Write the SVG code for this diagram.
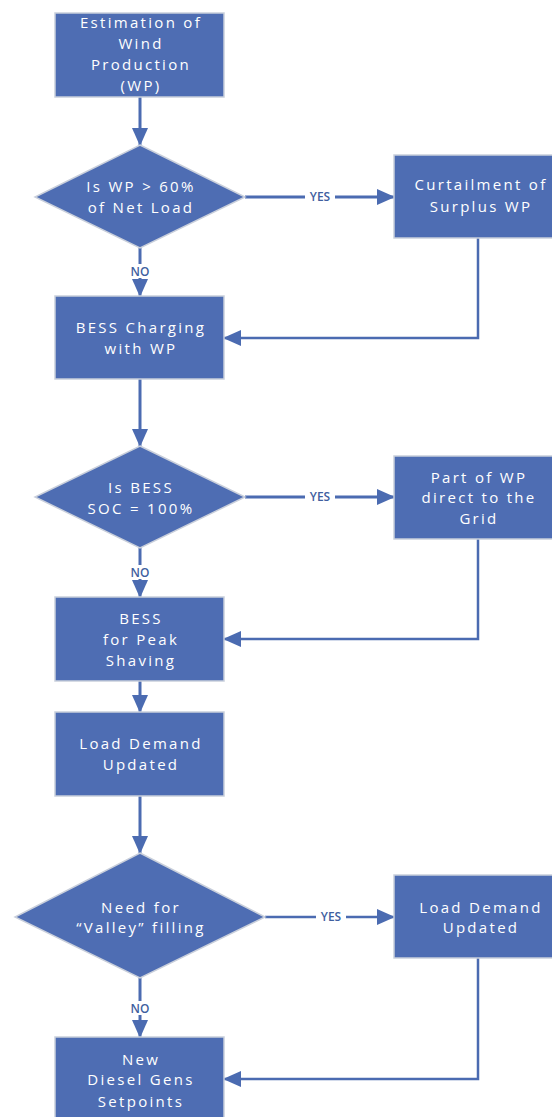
<svg xmlns="http://www.w3.org/2000/svg" width="552" height="1117" viewBox="0 0 552 1117">
<defs>
<style>
.n{fill:#4e6db3;stroke:#c9cfdb;stroke-width:1.5}
.t{font-family:"Open Sans","Noto Sans",sans-serif;font-size:15px;fill:#ffffff;text-anchor:middle;letter-spacing:2.3px}
.c{fill:none;stroke:#4b6bb1;stroke-width:3}
.r{fill:none;stroke:#4b6bb1;stroke-width:2.5}
.l{font-family:"Open Sans","Noto Sans",sans-serif;font-size:12px;font-weight:600;fill:#3f5f9f;text-anchor:middle}
</style>
<marker id="ah" viewBox="0 0 18 16" refX="17" refY="8" markerWidth="18" markerHeight="16" markerUnits="userSpaceOnUse" orient="auto">
<path d="M0,0 L18,8 L0,16 z" fill="#4b6bb1"/>
</marker>
</defs>
<rect width="552" height="1117" fill="#ffffff"/>
<g id="connectors">
<line class="c" x1="140" y1="97" x2="140" y2="145" marker-end="url(#ah)"/>
<line class="c" x1="245" y1="197" x2="394" y2="197" marker-end="url(#ah)"/>
<line class="c" x1="140" y1="248" x2="140" y2="296" marker-end="url(#ah)"/>
<polyline class="r" points="478,238 478,338 224,338" marker-end="url(#ah)"/>
<line class="c" x1="140" y1="379" x2="140" y2="446" marker-end="url(#ah)"/>
<line class="c" x1="245" y1="497" x2="394" y2="497" marker-end="url(#ah)"/>
<line class="c" x1="140" y1="548" x2="140" y2="597" marker-end="url(#ah)"/>
<polyline class="r" points="478,539 478,639 224,639" marker-end="url(#ah)"/>
<line class="c" x1="140" y1="681" x2="140" y2="712" marker-end="url(#ah)"/>
<line class="c" x1="140" y1="796" x2="140" y2="853" marker-end="url(#ah)"/>
<line class="r" x1="265" y1="917" x2="394" y2="917" marker-end="url(#ah)"/>
<line class="c" x1="140" y1="978" x2="140" y2="1037" marker-end="url(#ah)"/>
<polyline class="r" points="478,958 478,1079 224,1079" marker-end="url(#ah)"/>
<rect x="305" y="190" width="30" height="14" fill="#ffffff"/>
<text class="l" x="320" y="201">YES</text>
<rect x="125" y="264" width="30" height="14" fill="#ffffff"/>
<text class="l" x="140" y="276">NO</text>
<rect x="305" y="490" width="30" height="14" fill="#ffffff"/>
<text class="l" x="320" y="501">YES</text>
<rect x="125" y="565" width="30" height="14" fill="#ffffff"/>
<text class="l" x="140" y="577">NO</text>
<rect x="316" y="910" width="30" height="14" fill="#ffffff"/>
<text class="l" x="331" y="921">YES</text>
<rect x="125" y="1001" width="30" height="14" fill="#ffffff"/>
<text class="l" x="140" y="1013">NO</text>
</g>
<g id="estimation">
<rect class="n" x="55" y="13" width="169" height="84"/>
<text class="t" x="141" y="28">Estimation of</text>
<text class="t" x="141" y="49">Wind</text>
<text class="t" x="141" y="70">Production</text>
<text class="t" x="141" y="91">(WP)</text>
</g>
<g id="decision1">
<polygon class="n" points="140,145 245,197 140,248 35,197"/>
<text class="t" x="141" y="192">Is WP &gt; 60%</text>
<text class="t" x="141" y="213">of Net Load</text>
</g>
<g id="curtailment">
<rect class="n" x="394" y="155" width="169" height="83"/>
<text class="t" x="481" y="190">Curtailment of</text>
<text class="t" x="481" y="212">Surplus WP</text>
</g>
<g id="charging">
<rect class="n" x="55" y="296" width="169" height="83"/>
<text class="t" x="141" y="333">BESS Charging</text>
<text class="t" x="141" y="354">with WP</text>
</g>
<g id="decision2">
<polygon class="n" points="140,446 245,497 140,548 35,497"/>
<text class="t" x="141" y="493">Is BESS</text>
<text class="t" x="141" y="514">SOC = 100%</text>
</g>
<g id="grid">
<rect class="n" x="394" y="456" width="169" height="83"/>
<text class="t" x="479" y="483">Part of WP</text>
<text class="t" x="479" y="503">direct to the</text>
<text class="t" x="479" y="524">Grid</text>
</g>
<g id="peak">
<rect class="n" x="55" y="597" width="169" height="84"/>
<text class="t" x="141" y="624">BESS</text>
<text class="t" x="141" y="645">for Peak</text>
<text class="t" x="141" y="666">Shaving</text>
</g>
<g id="load1">
<rect class="n" x="55" y="712" width="169" height="84"/>
<text class="t" x="141" y="749">Load Demand</text>
<text class="t" x="141" y="770">Updated</text>
</g>
<g id="decision3">
<polygon class="n" points="140,853 265,917 140,978 15,917"/>
<text class="t" x="141" y="913">Need for</text>
<text class="t" x="141" y="933">“Valley” filling</text>
</g>
<g id="load2">
<rect class="n" x="394" y="875" width="169" height="83"/>
<text class="t" x="481" y="913">Load Demand</text>
<text class="t" x="481" y="933">Updated</text>
</g>
<g id="diesel">
<rect class="n" x="55" y="1037" width="169" height="86"/>
<text class="t" x="141" y="1065">New</text>
<text class="t" x="141" y="1085">Diesel Gens</text>
<text class="t" x="141" y="1107">Setpoints</text>
</g>
</svg>
